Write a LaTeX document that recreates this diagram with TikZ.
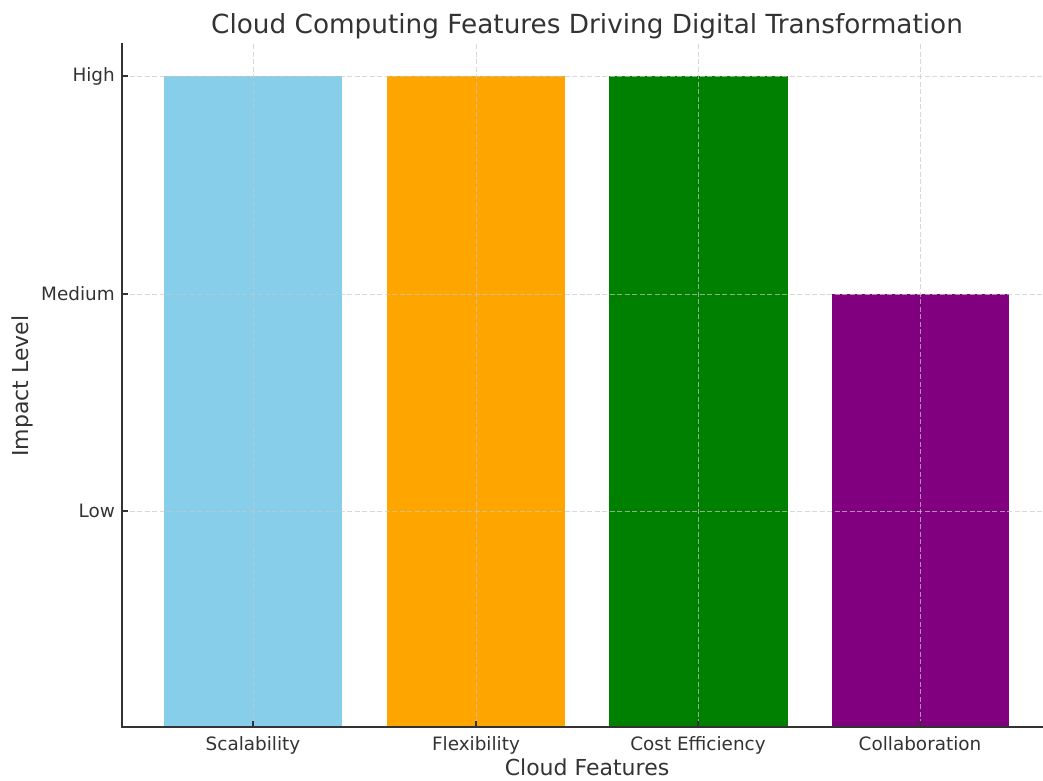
\documentclass[tikz,border=0pt]{standalone}
\usepackage{fontspec}
\setmainfont{DejaVu Sans}
\definecolor{txt}{HTML}{333333}
\definecolor{spine}{HTML}{333333}
\definecolor{gridc}{HTML}{C8C8C8}
\definecolor{cSky}{HTML}{87CEEB}
\definecolor{cOrange}{HTML}{FFA500}
\definecolor{cGreen}{HTML}{008000}
\definecolor{cPurple}{HTML}{800080}
\tikzset{
  bar/.style={draw=none},
  gridline/.style={draw=gridc, line width=0.9pt, dash pattern=on 5pt off 2.5pt, opacity=0.7},
  spineline/.style={draw=spine, line width=1.6pt},
  tickline/.style={draw=spine, line width=1.2pt},
  ticklab/.style={text=txt, font=\fontsize{18.4}{20}\selectfont, inner sep=0pt},
  axlab/.style={text=txt, font=\fontsize{22}{24}\selectfont, inner sep=0pt},
  titlelab/.style={text=txt, font=\fontsize{26.3}{28}\selectfont, inner sep=0pt}
}
\begin{document}
\begin{tikzpicture}[x=1pt,y=-1pt]
\useasboundingbox (0,0) rectangle (1043,780);
% bars
\fill[cSky]    (164,76)  rectangle (342,727);
\fill[cOrange] (387,76)  rectangle (565,727);
\fill[cGreen]  (609,76)  rectangle (788,727);
\fill[cPurple] (832,294) rectangle (1009,727);
% grid
\foreach \x in {253,476,698,920} \draw[gridline] (\x,44) -- (\x,727);
\foreach \y in {76,294,511} \draw[gridline] (122,\y) -- (1043,\y);
% spines
\draw[spineline] (122,43) -- (122,727) -- (1043,727);
% ticks
\foreach \y in {76,294,511} \draw[tickline] (122,\y) -- (128,\y);
\foreach \x in {253,476,698,920} \draw[tickline] (\x,727) -- (\x,721);
% y tick labels
\node[ticklab, anchor=east] (lhigh) at (115,76) {High};
\node[ticklab, anchor=east] (lmed) at (115,294) {Medium};
\node[ticklab, anchor=east] (llow) at (115,511) {Low};
% x tick labels
\node[ticklab, anchor=base] (lsca) at (253,750) {Scalability};
\node[ticklab, anchor=base] (lfle) at (476,750) {Flexibility};
\node[ticklab, anchor=base] (lcos) at (698,750) {Cost Efficiency};
\node[ticklab, anchor=base] (lcol) at (920,750) {Collaboration};
% axis labels
\node[axlab, anchor=base] (xlab) at (587,775.5) {Cloud Features};
\node[axlab, rotate=90, anchor=center] (ylab) at (22,386) {Impact Level};
% title
\node[titlelab, anchor=base] (title) at (587,33) {Cloud Computing Features Driving Digital Transformation};
\end{tikzpicture}
\end{document}
